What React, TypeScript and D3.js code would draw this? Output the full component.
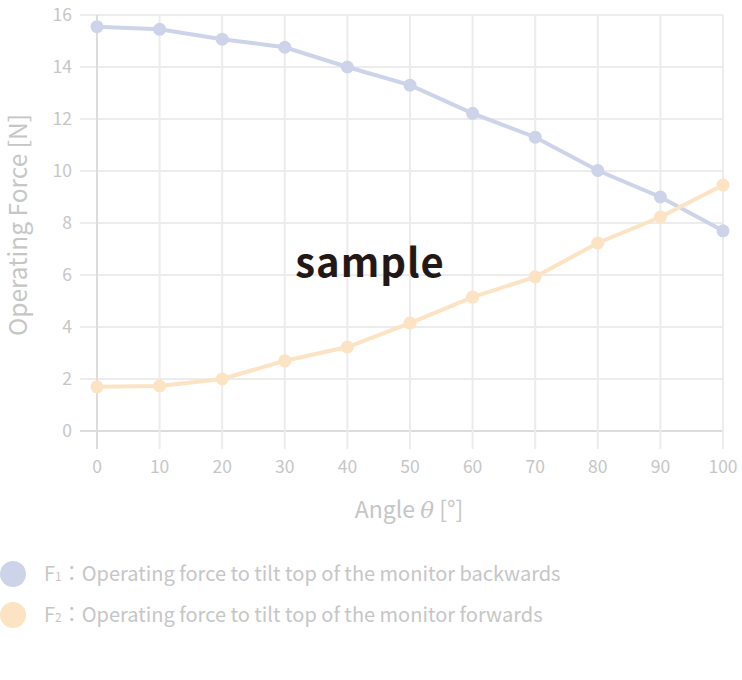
import React from "react";
import * as d3 from "d3";

const angles = [0, 10, 20, 30, 40, 50, 60, 70, 80, 90, 100];
const f1Values = [15.55, 15.45, 15.07, 14.76, 14.0, 13.3, 12.22, 11.3, 10.02, 9.0, 7.7];
const f2Values = [1.7, 1.73, 2.0, 2.7, 3.23, 4.15, 5.15, 5.93, 7.23, 8.23, 9.46];
const xTicks = [0, 10, 20, 30, 40, 50, 60, 70, 80, 90, 100];
const yTicks = [0, 2, 4, 6, 8, 10, 12, 14, 16];

const FONT = "'Noto Sans CJK JP', 'Noto Sans', sans-serif";
const C1 = "#cdd4e9";
const C2 = "#fbe3c3";
const TXT = "#c6c6c6";

export default function App() {
  const x = d3.scaleLinear().domain([0, 100]).range([97, 723]);
  const y = d3.scaleLinear().domain([0, 16]).range([431, 15]);
  const line = d3
    .line<[number, number]>()
    .x((d) => x(d[0]))
    .y((d) => y(d[1]));
  const s1 = angles.map((a, i) => [a, f1Values[i]] as [number, number]);
  const s2 = angles.map((a, i) => [a, f2Values[i]] as [number, number]);

  return (
    <svg
      width={742}
      height={680}
      style={{ position: "absolute", left: 0, top: 0, background: "#fff" }}
      fontFamily={FONT}
    >
      {yTicks.map((t) => (
        <line key={"h" + t} x1={80} x2={x(100)} y1={y(t)} y2={y(t)} stroke={t === 0 ? "#dcdcdc" : "#ececec"} strokeWidth={2} />
      ))}
      {xTicks.map((t) => (
        <line key={"v" + t} x1={x(t)} x2={x(t)} y1={y(16)} y2={449} stroke={t === 0 ? "#dcdcdc" : "#ececec"} strokeWidth={2} />
      ))}
      {yTicks.map((t) => (
        <text key={"yl" + t} x={72} y={y(t)} dy="0.35em" textAnchor="end" fontSize={17.5} fill={TXT}>
          {t}
        </text>
      ))}
      {xTicks.map((t) => (
        <text key={"xl" + t} x={x(t)} y={473} textAnchor="middle" fontSize={17.5} fill={TXT}>
          {t}
        </text>
      ))}
      <text x={409} y={518} textAnchor="middle" fontSize={23} fill={TXT}>
        Angle <tspan fontStyle="italic" fontFamily="'DejaVu Serif', serif">θ</tspan> [°]
      </text>
      <text
        transform={`translate(27,${225}) rotate(-90)`}
        textAnchor="middle"
        fontSize={24.5}
        fill={TXT}
      >
        Operating Force [N]
      </text>

      <path d={line(s1) || ""} fill="none" stroke={C1} strokeWidth={4} />
      <path d={line(s2) || ""} fill="none" stroke={C2} strokeWidth={4} />
      {s1.map((d, i) => (
        <circle key={"c1" + i} cx={x(d[0])} cy={y(d[1])} r={6.5} fill={C1} />
      ))}
      {s2.map((d, i) => (
        <circle key={"c2" + i} cx={x(d[0])} cy={y(d[1])} r={6.5} fill={C2} />
      ))}

      <text x={370} y={277} textAnchor="middle" fontSize={40} fontWeight="bold" fill="#231815" letterSpacing={1}>
        sample
      </text>

      <circle cx={13} cy={574} r={13} fill={C1} />
      <text x={44} y={581} fontSize={20} fill={TXT}>
        F<tspan fontSize={12}>1</tspan>：Operating force to tilt top of the monitor backwards
      </text>
      <circle cx={13} cy={615} r={13} fill={C2} />
      <text x={44} y={622} fontSize={20} fill={TXT}>
        F<tspan fontSize={12}>2</tspan>：Operating force to tilt top of the monitor forwards
      </text>
    </svg>
  );
}
